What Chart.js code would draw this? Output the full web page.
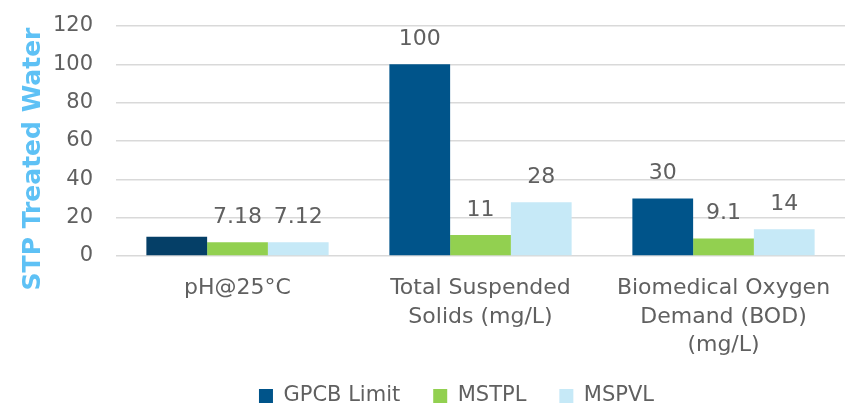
<!DOCTYPE html>
<html>
<head>
<meta charset="utf-8">
<script src="https://cdn.jsdelivr.net/npm/chart.js@4/dist/chart.umd.min.js"></script>
<style>
  html, body { margin: 0; padding: 0; background: #fff; }
  #wrap { width: 854px; height: 407px; }
</style>
</head>
<body>
<div id="wrap"><canvas id="chart"></canvas></div>
<script>
/* STP treated water parameters */
const categories = [
  ["pH@25°C"],
  ["Total Suspended", "Solids (mg/L)"],
  ["Biomedical Oxygen", "Demand (BOD)", "(mg/L)"]
];
const gpcbLimit = [10, 100, 30];
const mstpl = [7.18, 11, 9.1];
const mspvl = [7.12, 28, 14];
// the pH limit bar carries no value label
const gpcbShowLabel = [false, true, true];
const yTicks = [0, 20, 40, 60, 80, 100, 120];
const yTitle = "STP Treated Water";

const FONT = "'DejaVu Sans', sans-serif";
const TEXT = "#606060";

/* values written above each bar */
const barValues = {
  id: "barValues",
  afterDatasetsDraw(chart) {
    const ctx = chart.ctx;
    ctx.save();
    ctx.font = "22px " + FONT;
    ctx.fillStyle = TEXT;
    ctx.textAlign = "center";
    ctx.textBaseline = "middle";
    chart.data.datasets.forEach((ds, i) => {
      chart.getDatasetMeta(i).data.forEach((bar, j) => {
        if (ds.showLabel && !ds.showLabel[j]) return;
        ctx.fillText(String(ds.data[j]), bar.x, bar.y - 25);
      });
    });
    ctx.restore();
  }
};

/* rotated y title, sitting a bit below the plot's middle */
const sideTitle = {
  id: "sideTitle",
  afterDraw(chart) {
    const ctx = chart.ctx;
    ctx.save();
    ctx.translate(33, 159);
    ctx.rotate(-Math.PI / 2);
    ctx.font = "bold 25px " + FONT;
    ctx.fillStyle = "#5ec1f5";
    ctx.textAlign = "center";
    ctx.textBaseline = "middle";
    ctx.fillText(yTitle, 0, 0);
    ctx.restore();
  }
};

/* nudge the legend row right and down */
const legendShift = {
  id: "legendShift",
  afterLayout(chart) {
    const lg = chart.legend;
    const dx = 34;
    const dy = 396 - (lg.top + 33 + 10.5);
    lg.left += dx; lg.right += dx;
    lg.top += dy; lg.bottom += dy;
  }
};

new Chart(document.getElementById("chart"), {
  type: "bar",
  data: {
    labels: categories,
    datasets: [
      { label: "GPCB Limit", data: gpcbLimit, showLabel: gpcbShowLabel,
        backgroundColor: ["#053f67", "#00548a", "#00548a"] },
      { label: "MSTPL", data: mstpl, backgroundColor: "#92d050" },
      { label: "MSPVL", data: mspvl, backgroundColor: "#c6e9f7" }
    ]
  },
  options: {
    responsive: true,
    maintainAspectRatio: false,
    animation: false,
    layout: { padding: { top: 26, right: 9, left: 0, bottom: -17 } },
    datasets: { bar: { categoryPercentage: 0.75, barPercentage: 1 } },
    plugins: {
      tooltip: { enabled: false },
      legend: {
        position: "bottom",
        labels: {
          color: TEXT,
          font: { family: FONT, size: 21 },
          boxWidth: 14,
          boxHeight: 14,
          padding: 33,
          generateLabels(chart) {
            return chart.data.datasets.map((ds, i) => ({
              text: ds.label,
              fillStyle: i === 0 ? "#00548a" : ds.backgroundColor,
              strokeStyle: "transparent",
              lineWidth: 0,
              fontColor: TEXT,
              datasetIndex: i
            }));
          }
        }
      }
    },
    scales: {
      x: {
        grid: { display: false },
        border: { display: false },
        afterFit(axis) { axis.height = 104; },
        ticks: {
          color: TEXT,
          font: { family: FONT, size: 22, lineHeight: 1.3 },
          padding: 10,
          maxRotation: 0
        }
      },
      y: {
        min: 0,
        max: 120,
        afterBuildTicks(axis) { axis.ticks = yTicks.map(v => ({ value: v })); },
        afterFit(axis) {
          axis.width = 116;
          axis.paddingTop = 0;
          axis.paddingBottom = 0;
        },
        grid: { color: "#d9d9d9", lineWidth: 1.5, drawTicks: false },
        border: { display: false },
        ticks: { color: TEXT, font: { family: FONT, size: 21 }, padding: 23 }
      }
    }
  },
  plugins: [barValues, sideTitle, legendShift]
});
</script>
</body>
</html>
